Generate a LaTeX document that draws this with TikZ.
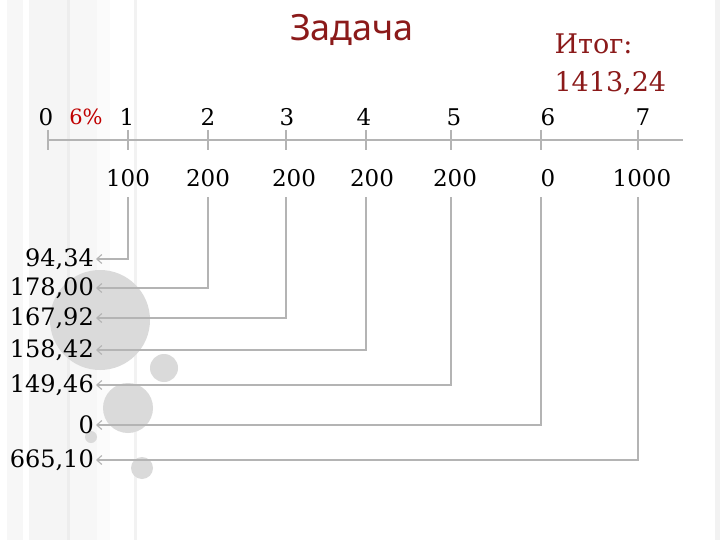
\documentclass[tikz,border=0pt]{standalone}
\usepackage{fontspec}
\setmainfont{DejaVu Serif}
\newfontfamily\titlefont{Noto Sans}
\usetikzlibrary{arrows.meta}
\definecolor{slidered}{HTML}{8B1A1A}
\definecolor{pctred}{HTML}{C00000}
\definecolor{lineg}{HTML}{B4B4B4}
\definecolor{dotg}{HTML}{DADADA}

\begin{document}
\begin{tikzpicture}[x=1pt,y=-1pt,every node/.style={font=\fontsize{23}{26}\selectfont},
  axis/.style={draw=lineg,line width=1.6pt},
  conn/.style={draw=lineg,line width=1.5pt,shorten <=7pt,-{Straight Barb[length=5pt,width=9pt,line width=1.1pt]}},
  res/.style={anchor=east,inner sep=2pt,font=\fontsize{24}{26}\selectfont}]
\useasboundingbox (0,0) rectangle (720,540);
\fill[white] (0,0) rectangle (720,540);
% slide stripes
\fill[black!3] (7,0) rectangle (23,540);
\fill[black!4] (29,0) rectangle (67,540);
\fill[black!7] (67,0) rectangle (70,540);
\fill[black!3] (70,0) rectangle (97,540);
\fill[black!1.5] (97,0) rectangle (110,540);
\fill[black!5] (134,0) rectangle (137,540);
\fill[black!5] (715,0) rectangle (720,540);
% circles
\fill[dotg] (100,320) circle (50);
\fill[dotg] (164,368) circle (14);
\fill[dotg] (128,408) circle (25);
\fill[dotg] (91,437) circle (6);
\fill[dotg] (142,468) circle (11);
% axis
\coordinate (k0) at (48,140);
\coordinate (k1) at (128,140);
\coordinate (k2) at (208,140);
\coordinate (k3) at (286,140);
\coordinate (k4) at (366,140);
\coordinate (k5) at (451,140);
\coordinate (k6) at (541,140);
\coordinate (k7) at (638,140);
\coordinate (kend) at (683,140);
\draw[axis] (k0) -- (kend);
\foreach \i in {0,...,7} \draw[axis] ([yshift=10pt]k\i) -- ([yshift=-10pt]k\i);
% titles
\node[text=slidered,font=\titlefont\fontsize{36}{40}\selectfont] (title) at (352,30) {Задача};
\node[text=slidered,font=\fontsize{27}{38}\selectfont,align=left,anchor=west] (total) at (551,64) {Итог:\\1413,24};
% periods
\node (t0) at (46,117) {0};
\node[text=pctred,font=\fontsize{21}{24}\selectfont] (pct) at (86,117) {6\%};
\node (t1) at (127,117) {1};
\node (t2) at (208,117) {2};
\node (t3) at (287,117) {3};
\node (t4) at (364,117) {4};
\node (t5) at (454,117) {5};
\node (t6) at (548,117) {6};
\node (t7) at (643,117) {7};
% payments
\node (v1) at (128,178) {100};
\node (v2) at (208,178) {200};
\node (v3) at (294,178) {200};
\node (v4) at (372,178) {200};
\node (v5) at (455,178) {200};
\node (v6) at (548,178) {0};
\node (v7) at (642,178) {1000};
% discounted values
\node[res] (r1) at (96,259) {94,34};
\node[res] (r2) at (96,288) {178,00};
\node[res] (r3) at (96,318) {167,92};
\node[res] (r4) at (96,350) {158,42};
\node[res] (r5) at (96,385) {149,46};
\node[res] (r6) at (96,425) {0};
\node[res] (r7) at (96,460) {665,10};
\draw[conn] (v1.south -| k1) |- (r1.east);
\draw[conn] (v2.south -| k2) |- (r2.east);
\draw[conn] (v3.south -| k3) |- (r3.east);
\draw[conn] (v4.south -| k4) |- (r4.east);
\draw[conn] (v5.south -| k5) |- (r5.east);
\draw[conn] (v6.south -| k6) |- (r6.east);
\draw[conn] (v7.south -| k7) |- (r7.east);
\end{tikzpicture}
\end{document}
